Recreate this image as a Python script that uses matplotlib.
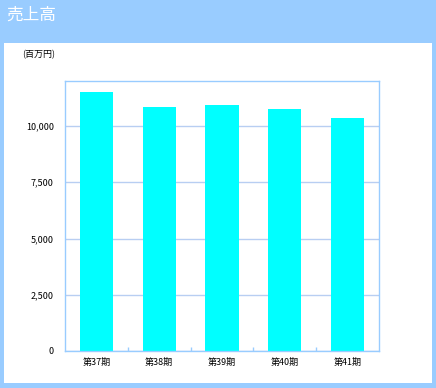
import matplotlib.pyplot as plt
from matplotlib.patches import Rectangle
from matplotlib.ticker import FuncFormatter, FixedLocator

plt.rcParams['font.family'] = ['Noto Sans CJK JP', 'DejaVu Sans']

# data
periods = ["第37期", "第38期", "第39期", "第40期", "第41期"]
sales = [11510, 10840, 10930, 10760, 10360]
y_ticks = [0, 2500, 5000, 7500, 10000]

W, H = 436, 388
fig = plt.figure(figsize=(W / 100, H / 100), dpi=100)
fig.patch.set_facecolor("#99ccff")

# white inner panel
fig.patches.append(Rectangle((4 / W, 1 - 383 / H), 428 / W, 340 / H,
                             transform=fig.transFigure, facecolor="white",
                             edgecolor="none", zorder=-1))

fig.text(6 / W, 1 - 15 / H, "売上高", color="white", fontsize=12,
         va="center", ha="left")
fig.text(22 / W, 1 - 55 / H, "(百万円)", color="black", fontsize=6.5,
         va="center", ha="left")

ax = fig.add_axes([65 / W, 1 - 351 / H, 314 / W, 270 / H])
ax.set_zorder(2)
ax.set_facecolor("white")
x = range(len(periods))
ax.bar(x, sales, width=0.53, color="#00ffff", zorder=2)

ax.set_xlim(-0.5, len(periods) - 0.5)
ax.set_ylim(0, 12000)
ax.yaxis.set_major_locator(FixedLocator(y_ticks))
ax.yaxis.set_major_formatter(FuncFormatter(lambda v, p: f"{int(v):,}"))
ax.set_xticks(list(x))
ax.set_xticklabels(periods)
ax.set_xticks([i + 0.5 for i in range(len(periods) - 1)], minor=True)

ax.grid(axis="y", color="#b8cef2", linestyle="-", linewidth=1, zorder=1)
for s in ax.spines.values():
    s.set_color("#99ccff")
    s.set_linewidth(1.0)

ax.tick_params(axis="y", length=0, labelsize=6.5, pad=8)
ax.tick_params(axis="x", which="major", length=0, labelsize=6.5, pad=5)
ax.tick_params(axis="x", which="minor", direction="in", length=3,
               color="#99ccff", width=1)

fig.savefig("out.png", dpi=100, facecolor=fig.get_facecolor())
